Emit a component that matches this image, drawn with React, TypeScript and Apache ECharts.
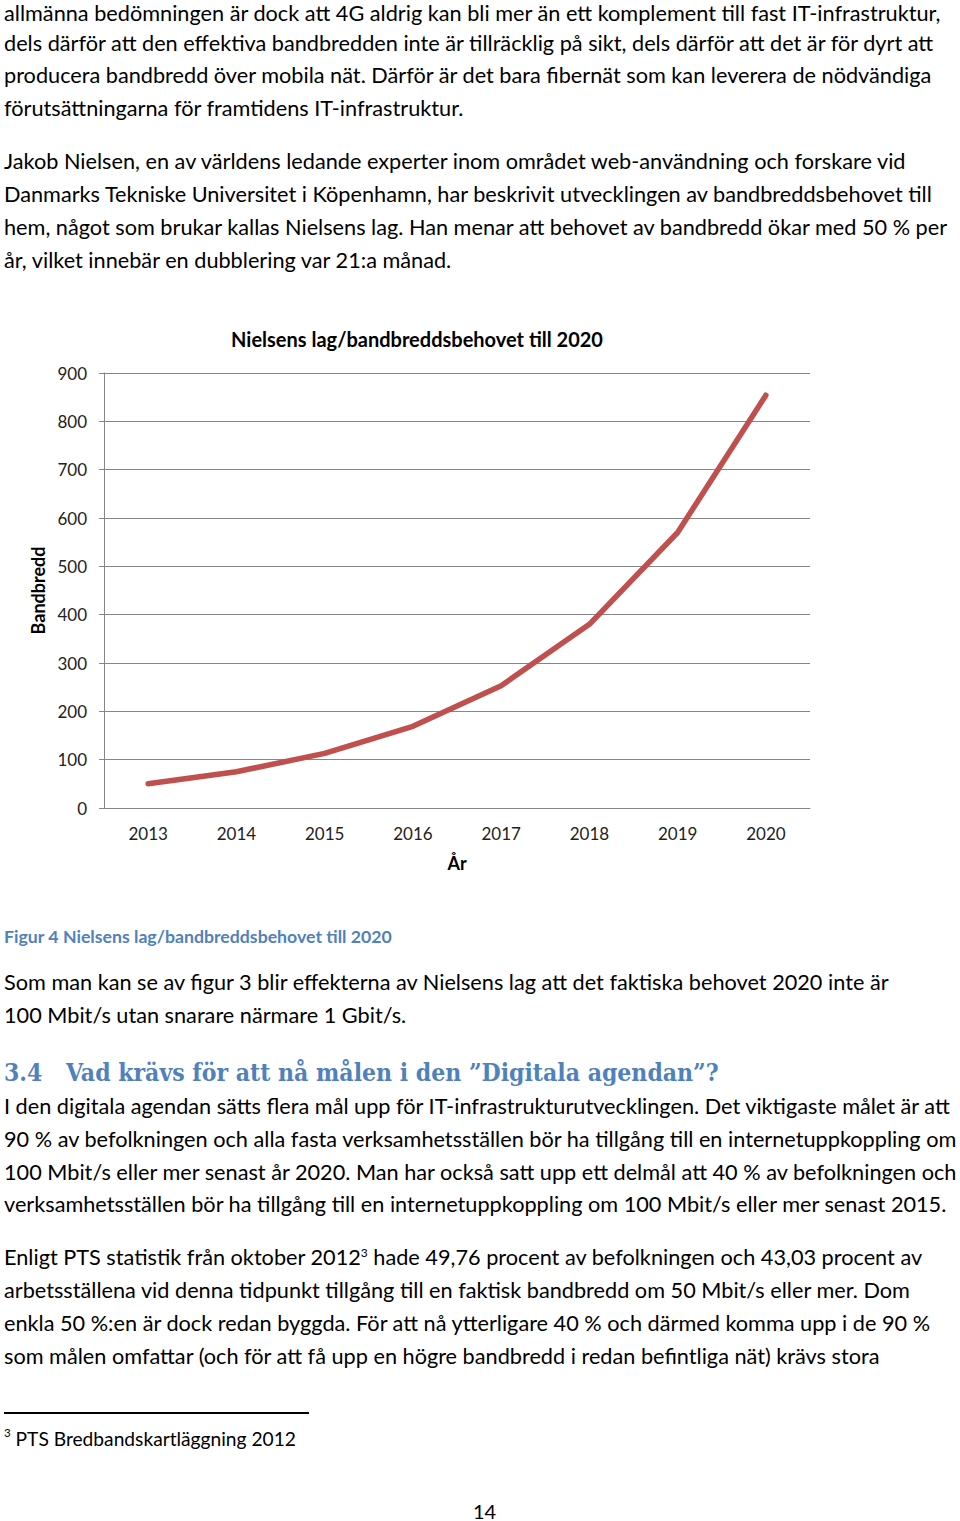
import React, { useEffect, useRef } from "react";
import * as echarts from "echarts";

const years = ["2013", "2014", "2015", "2016", "2017", "2018", "2019", "2020"];
const bandwidth = [50, 75, 113, 169, 253, 380, 570, 854];
const yTicks = { min: 0, max: 900, interval: 100 };

const chartTitle = "Nielsens lag/bandbreddsbehovet till 2020";
const yName = "Bandbredd";
const xName = "År";

const para1 = [
  "allmänna bedömningen är dock att 4G aldrig kan bli mer än ett komplement till fast IT-infrastruktur,",
  "dels därför att den effektiva bandbredden inte är tillräcklig på sikt, dels därför att det är för dyrt att",
  "producera bandbredd över mobila nät. Därför är det bara fibernät som kan leverera de nödvändiga",
  "förutsättningarna för framtidens IT-infrastruktur.",
];
const para2 = [
  "Jakob Nielsen, en av världens ledande experter inom området web-användning och forskare vid",
  "Danmarks Tekniske Universitet i Köpenhamn, har beskrivit utvecklingen av bandbreddsbehovet till",
  "hem, något som brukar kallas Nielsens lag. Han menar att behovet av bandbredd ökar med 50 % per",
  "år, vilket innebär en dubblering var 21:a månad.",
];
const caption = "Figur 4 Nielsens lag/bandbreddsbehovet till 2020";
const para3 = [
  "Som man kan se av figur 3 blir effekterna av Nielsens lag att det faktiska behovet 2020 inte är",
  "100 Mbit/s utan snarare närmare 1 Gbit/s.",
];
const headingNum = "3.4";
const headingText = "Vad krävs för att nå målen i den ”Digitala agendan”?";
const para4 = [
  "I den digitala agendan sätts flera mål upp för IT-infrastrukturutvecklingen. Det viktigaste målet är att",
  "90 % av befolkningen och alla fasta verksamhetsställen bör ha tillgång till en internetuppkoppling om",
  "100 Mbit/s eller mer senast år 2020. Man har också satt upp ett delmål att 40 % av befolkningen och",
  "verksamhetsställen bör ha tillgång till en internetuppkoppling om 100 Mbit/s eller mer senast 2015.",
];
const para5a = "Enligt PTS statistik från oktober 2012";
const para5b = " hade 49,76 procent av befolkningen och 43,03 procent av";
const para5 = [
  "arbetsställena vid denna tidpunkt tillgång till en faktisk bandbredd om 50 Mbit/s eller mer. Dom",
  "enkla 50 %:en är dock redan byggda. För att nå ytterligare 40 % och därmed komma upp i de 90 %",
  "som målen omfattar (och för att få upp en högre bandbredd i redan befintliga nät) krävs stora",
];
const footnote = "PTS Bredbandskartläggning 2012";
const pageNum = "14";

const BODY_FONT = "Lato, 'Open Sans', sans-serif";
const FS = 21.7;
const LH = 33;

function Line({ y, children, style, lh = LH }: { y: number; children: React.ReactNode; style?: React.CSSProperties; lh?: number }) {
  return (
    <div
      style={{
        position: "absolute",
        left: 4,
        top: y - lh / 2,
        height: lh,
        lineHeight: lh + "px",
        whiteSpace: "nowrap",
        fontFamily: BODY_FONT,
        fontSize: FS,
        color: "#000",
        ...style,
      }}
    >
      {children}
    </div>
  );
}

function Chart() {
  const ref = useRef<HTMLDivElement>(null);
  useEffect(() => {
    if (!ref.current) return;
    const chart = echarts.init(ref.current, null, { renderer: "svg" });
    chart.setOption({
      animation: false,
      backgroundColor: "#fff",
      title: {
        text: chartTitle,
        left: 417,
        top: 9,
        padding: 0,
        textAlign: "center",
        textStyle: { fontFamily: BODY_FONT, fontSize: 20, fontWeight: "bold", color: "#000" },
      },
      grid: { left: 104, right: 150, top: 53, bottom: 82 },
      xAxis: {
        type: "category",
        data: years,
        boundaryGap: true,
        name: xName,
        nameLocation: "middle",
        nameGap: 46,
        nameTextStyle: { fontFamily: BODY_FONT, fontSize: 18, fontWeight: "bold", color: "#000" },
        axisLine: { show: true, lineStyle: { color: "#868686", width: 1 } },
        axisTick: { show: false },
        axisLabel: { fontFamily: BODY_FONT, fontSize: 17, color: "#222", margin: 17 },
      },
      yAxis: {
        type: "value",
        min: yTicks.min,
        max: yTicks.max,
        interval: yTicks.interval,
        name: yName,
        nameLocation: "middle",
        nameRotate: 90,
        nameGap: 53,
        nameTextStyle: { fontFamily: BODY_FONT, fontSize: 18, fontWeight: "bold", color: "#000" },
        axisLine: { show: true, lineStyle: { color: "#868686", width: 1 } },
        axisTick: { show: true, length: 5, lineStyle: { color: "#868686" } },
        axisLabel: { fontFamily: BODY_FONT, fontSize: 17, color: "#222", margin: 17 },
        splitLine: { show: true, lineStyle: { color: "#868686", width: 1 } },
      },
      series: [
        {
          type: "line",
          data: bandwidth,
          symbol: "none",
          lineStyle: { color: "#C0504D", width: 5.5, cap: "round", join: "round" },
          itemStyle: { color: "#C0504D" },
        },
      ],
    });
    return () => chart.dispose();
  }, []);
  return <div ref={ref} style={{ position: "absolute", left: 0, top: 320, width: 960, height: 570 }} />;
}

export default function App() {
  const blue = "#4F81BD";
  return (
    <div style={{ position: "absolute", left: 0, top: 0, width: 960, height: 1521, background: "#fff", overflow: "hidden" }}>
      {para1.map((t, i) =>
        i === 0 ? (
          <Line key={"p1" + i} y={13} lh={26}>{t}</Line>
        ) : (
          <Line key={"p1" + i} y={10.5 + i * 32.7}>{t}</Line>
        )
      )}
      {para2.map((t, i) => (
        <Line key={"p2" + i} y={161.5 + i * 33}>{t}</Line>
      ))}
      <Chart />
      <Line y={936} style={{ fontSize: 17.7, fontWeight: "bold", color: blue }}>{caption}</Line>
      {para3.map((t, i) => (
        <Line key={"p3" + i} y={982.5 + i * 33}>{t}</Line>
      ))}
      <Line
        y={1072}
        style={{
          fontFamily: "'DejaVu Serif Condensed', 'DejaVu Serif', serif",
          fontStretch: "condensed",
          fontSize: 24.5,
          fontWeight: "bold",
          color: blue,
        }}
      >
        <span style={{ display: "inline-block", width: 62 }}>{headingNum}</span>
        {headingText}
      </Line>
      {para4.map((t, i) => (
        <Line key={"p4" + i} y={1106.5 + i * 32.8}>{t}</Line>
      ))}
      <Line y={1257.5}>
        {para5a}
        <sup style={{ fontSize: 12, verticalAlign: "top", lineHeight: "24px" }}>3</sup>
        {para5b}
      </Line>
      {para5.map((t, i) => (
        <Line key={"p5" + i} y={1290.5 + i * 33}>{t}</Line>
      ))}
      <div style={{ position: "absolute", left: 4, top: 1412, width: 305, height: 1.5, background: "#000" }} />
      <Line y={1438} style={{ fontSize: 19.2 }}>
        <sup style={{ fontSize: 11.5, verticalAlign: "top", lineHeight: "22px" }}>3</sup> {footnote}
      </Line>
      <Line y={1511} style={{ left: 473, fontSize: 20 }}>{pageNum}</Line>
    </div>
  );
}
